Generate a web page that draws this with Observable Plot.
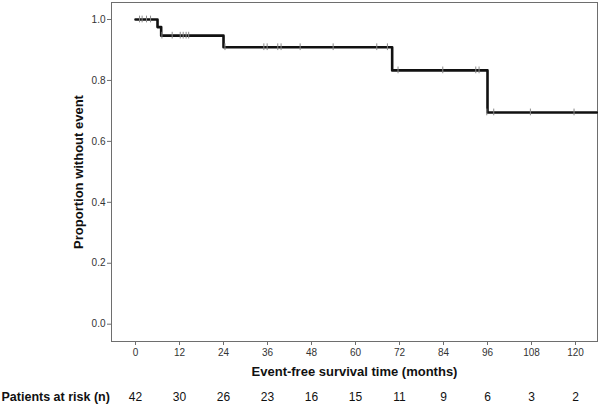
<!DOCTYPE html>
<html>
<head>
<meta charset="utf-8">
<script src="https://cdn.jsdelivr.net/npm/d3@7"></script>
<script src="https://cdn.jsdelivr.net/npm/@observablehq/plot@0.6"></script>
<style>
  html, body { margin: 0; padding: 0; background: #fff; }
  #chart svg { display: block; }
</style>
</head>
<body>
<div id="chart"></div>
<script>
// Kaplan–Meier step curve (event times and survival after each step)
const stepTimes = [0, 6, 7, 24, 70, 96, 125.8];
const stepSurvival = [1.0, 0.975, 0.947, 0.909, 0.833, 0.695, 0.695];

// Censored observations (time, survival level)
const censorTimes = [1.1, 1.8, 3.0, 4.1, 7.2, 10.0, 12.2, 13.0, 13.8, 14.5,
  24.4, 35.0, 35.9, 38.8, 39.7, 44.9, 53.9, 65.8, 68.7,
  71.6, 83.8, 92.8, 93.7, 95.8, 97.7, 107.7, 119.6];
const censorSurvival = [1, 1, 1, 1, 0.947, 0.947, 0.947, 0.947, 0.947, 0.947,
  0.909, 0.909, 0.909, 0.909, 0.909, 0.909, 0.909, 0.909, 0.909,
  0.833, 0.833, 0.833, 0.833, 0.695, 0.695, 0.695, 0.695];

// Axis ticks
const xTicks = [0, 12, 24, 36, 48, 60, 72, 84, 96, 108, 120];
const yTicks = [0, 0.2, 0.4, 0.6, 0.8, 1.0];

// Patients at risk at each x tick
const riskTimes = [0, 12, 24, 36, 48, 60, 72, 84, 96, 108, 120];
const riskCounts = [42, 30, 26, 23, 16, 15, 11, 9, 6, 3, 2];

const curve = stepTimes.map((t, i) => ({t, s: stepSurvival[i]}));
const censors = censorTimes.map((t, i) => ({t, s: censorSurvival[i]}));
const risk = riskTimes.map((t, i) => ({t, n: riskCounts[i]}));

const font = "'Liberation Sans', Arial, sans-serif";

const plot = Plot.plot({
  width: 600,
  height: 408,
  marginLeft: 111,
  marginRight: 3,
  marginTop: 2,
  marginBottom: 67,
  style: {fontFamily: font, background: "#fff", overflow: "visible"},
  x: {domain: [-6.55, 126]},
  y: {domain: [-0.0568, 1.0558]},
  marks: [
    Plot.frame({stroke: "#6e6e6e", strokeWidth: 1}),
    Plot.axisX({ticks: xTicks, tickSize: 4, tickPadding: 3, fontSize: 10, color: "#333", stroke: "#6e6e6e", label: null}),
    Plot.axisY({ticks: yTicks, tickFormat: d3.format(".1f"), tickSize: 4, tickPadding: 2, fontSize: 10, color: "#333", stroke: "#6e6e6e", label: null}),
    Plot.line(curve, {x: "t", y: "s", curve: "step-after", stroke: "#111", strokeWidth: 2.6}),
    Plot.ruleX(censors, {x: "t", y1: d => d.s - 0.011, y2: d => d.s + 0.011, stroke: "#8a8a8a", strokeWidth: 1}),
    Plot.text(["Proportion without event"], {frameAnchor: "left", textAnchor: "middle", dx: -33, rotate: -90, text: d => d, fontSize: 13, fontWeight: "bold", fill: "#111"}),
    Plot.text(["Event-free survival time (months)"], {frameAnchor: "bottom", textAnchor: "middle", dy: 34, text: d => d, fontSize: 13, fontWeight: "bold", fill: "#111"}),
    Plot.text(risk, {x: "t", frameAnchor: "bottom", dy: 59, text: d => String(d.n), fontSize: 12, fill: "#111"}),
    Plot.text(["Patients at risk (n)"], {frameAnchor: "bottom-left", dx: -110, dy: 59, textAnchor: "start", text: d => d, fontSize: 12.5, fontWeight: "bold", fill: "#111"})
  ]
});
document.getElementById("chart").appendChild(plot);
</script>
</body>
</html>
